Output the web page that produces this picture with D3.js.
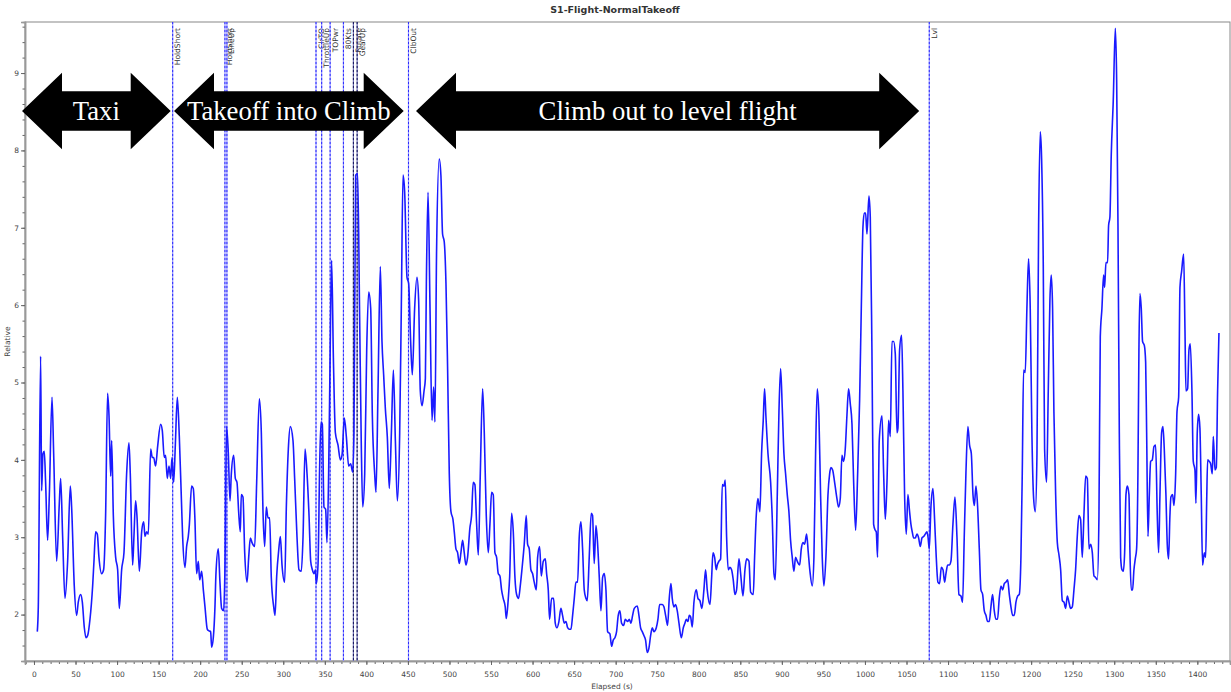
<!DOCTYPE html>
<html><head><meta charset="utf-8">
<script src="https://cdn.jsdelivr.net/npm/d3@7"></script>
<style>
html,body{margin:0;padding:0;background:#fff;}
svg{display:block;}
</style></head>
<body>
<svg id="chart" width="1231" height="692"></svg>
<script>
const chartTitle = "S1-Flight-NormalTakeoff";
const xLabel = "Elapsed (s)";
const yLabel = "Relative";
const xTickValues = d3.range(0, 1401, 50);
const yTickValues = [2, 3, 4, 5, 6, 7, 8, 9];

const elapsed = [4.0,5.2,8.0,9.2,10.8,12.4,14.0,16.4,18.5,21.7,23.7,27.3,30.5,32.1,34.5,37.3,40.5,43.7,45.3,48.5,51.3,53.3,56.2,58.2,60.6,62.6,64.6,67.4,70.6,72.2,74.2,76.2,78.2,81.4,83.8,86.2,88.6,90.3,92.3,93.5,95.5,98.3,100.7,102.7,105.5,108.3,111.5,114.3,115.9,118.7,120.3,122.3,123.9,126.8,129.6,132.0,133.6,135.6,137.6,140.4,142.4,144.0,146.4,148.8,152.4,154.4,156.8,158.4,160.4,162.5,164.5,166.1,168.1,170.1,172.5,174.9,177.7,178.9,181.7,183.7,185.7,186.9,189.7,191.7,193.7,195.7,197.8,199.4,201.8,203.8,205.8,208.6,210.6,212.6,213.8,215.8,217.8,219.0,221.8,223.8,225.8,228.2,229.8,231.8,233.9,235.9,237.5,240.3,242.3,244.3,246.3,248.3,249.5,251.5,253.6,256.4,258.4,260.4,262.4,265.6,268.0,271.2,273.6,275.6,277.6,279.6,281.6,283.6,285.6,288.5,290.1,292.1,294.5,296.5,298.5,301.7,303.7,306.1,308.5,311.7,313.7,316.5,318.9,321.7,323.8,326.2,328.6,331.0,333.0,335.0,337.0,338.6,339.8,341.8,343.8,345.4,347.0,349.0,351.0,352.6,354.6,356.2,358.2,360.3,362.7,365.9,368.7,370.7,373.5,375.9,378.7,381.1,383.5,385.1,387.1,389.5,391.9,393.9,395.6,398.0,400.4,402.8,405.2,407.2,410.0,411.6,414.0,416.8,418.8,420.8,422.8,425.2,427.6,430.1,432.5,434.9,437.3,440.1,442.1,444.1,446.1,448.9,450.9,453.3,455.3,458.1,460.9,462.9,464.9,467.0,469.4,471.0,472.2,474.2,476.6,479.0,480.9,482.5,484.5,487.7,489.7,491.7,493.7,495.8,497.8,499.8,501.8,504.2,505.8,507.8,509.8,511.8,513.8,515.8,517.8,519.8,521.8,524.6,526.6,528.6,530.6,532.7,534.7,537.1,539.9,541.9,544.3,546.7,548.7,550.7,552.7,554.7,556.7,558.7,560.7,562.7,564.7,567.1,568.4,570.8,572.4,574.8,576.8,578.8,580.8,583.2,585.2,587.2,590.0,592.4,594.0,596.0,598.0,600.0,602.0,604.5,606.1,608.5,610.5,612.9,615.3,616.9,618.9,620.5,622.9,625.3,627.3,629.3,631.7,634.1,636.1,638.1,640.2,642.2,644.2,646.2,648.2,650.2,652.2,654.2,656.2,658.2,660.2,662.2,664.2,665.8,668.2,670.6,672.2,674.2,676.3,678.3,680.3,682.3,684.3,686.3,688.3,690.3,693.1,695.1,697.1,699.1,701.1,703.1,705.1,707.1,709.6,711.6,714.4,716.4,718.4,720.4,722.4,726.0,728.0,730.0,732.0,734.0,736.0,738.0,740.1,742.1,744.1,746.1,748.9,750.9,752.9,756.1,758.1,760.1,762.5,764.5,766.5,768.1,770.1,772.1,774.1,776.2,779.0,781.4,783.4,785.0,787.0,788.6,790.2,792.2,794.2,797.0,799.0,801.4,803.8,806.2,808.2,810.2,813.5,815.5,817.1,819.1,821.1,822.3,824.3,826.3,828.3,830.3,831.9,833.5,835.5,837.5,839.5,841.5,843.5,845.5,848.4,850.4,853.2,855.6,857.6,860.4,862.4,865.6,867.2,869.2,871.2,873.6,875.6,877.6,879.2,880.8,883.3,886.5,888.5,890.5,892.1,894.5,896.5,898.5,900.5,902.5,904.5,906.5,908.5,910.5,912.5,914.5,916.5,918.5,921.4,923.4,925.4,927.4,929.8,931.8,933.8,936.6,938.6,940.6,942.6,944.6,946.6,948.6,950.6,953.0,955.5,957.5,959.1,961.1,963.5,966.3,968.3,970.3,972.3,974.3,976.3,978.3,980.3,982.3,984.4,986.4,988.8,991.2,993.6,995.6,997.6,999.2,1000.8,1002.4,1004.8,1006.4,1008.4,1010.4,1012.4,1013.6,1015.2,1017.2,1020.5,1022.5,1024.5,1026.5,1028.5,1030.5,1032.5,1034.5,1036.5,1038.5,1039.7,1041.7,1044.1,1045.7,1047.7,1049.7,1051.7,1053.7,1055.3,1056.9,1058.6,1060.6,1062.6,1064.6,1066.6,1068.6,1070.6,1072.6,1074.6,1075.8,1077.4,1079.4,1081.8,1083.8,1085.8,1087.8,1089.8,1091.9,1093.9,1095.9,1097.5,1099.5,1101.5,1103.5,1105.9,1108.3,1110.7,1113.1,1115.5,1117.5,1119.5,1121.5,1123.9,1125.9,1128.0,1130.0,1131.6,1133.6,1135.6,1137.6,1139.6,1141.6,1143.6,1145.6,1147.6,1149.6,1151.6,1153.6,1155.6,1157.6,1159.6,1161.6,1163.7,1165.7,1167.7,1169.7,1171.7,1173.7,1175.7,1177.7,1179.7,1181.7,1183.7,1185.7,1187.7,1189.3,1190.9,1192.9,1194.9,1196.9,1198.9,1200.9,1203.0,1205.0,1207.0,1209.0,1211.0,1212.6,1214.6,1216.2,1218.6,1220.6,1222.6,1224.2,1225.8,1227.4,1229.5,1231.5,1233.5,1235.5,1237.5,1239.5,1241.5,1243.5,1245.5,1247.5,1249.5,1251.5,1253.5,1255.5,1257.5,1259.5,1261.5,1263.5,1265.6,1267.6,1269.6,1271.6,1273.6,1275.6,1277.6,1279.6,1281.6,1283.2,1285.2,1287.2,1288.4,1290.0,1292.0,1293.2,1294.8,1296.4,1298.8,1301.3,1302.9,1304.5,1306.1,1307.7,1309.3,1310.9,1312.5,1314.1,1315.7,1317.7,1318.9,1320.5,1322.1,1323.7,1325.3,1326.9,1328.5,1329.7,1330.9,1332.5,1334.1,1336.2,1337.8,1339.0,1340.6,1342.2,1343.8,1345.8,1347.8,1349.8,1351.8,1353.4,1355.0,1357.0,1358.6,1360.2,1362.2,1363.8,1365.4,1367.0,1368.2,1370.2,1371.9,1373.9,1375.5,1377.5,1379.1,1381.1,1383.5,1385.1,1386.3,1388.3,1389.9,1391.5,1393.5,1395.1,1397.1,1398.3,1399.9,1401.5,1403.1,1404.7,1406.3,1408.4,1410.0,1411.2,1412.4,1414.4,1416.0,1418.0,1419.2,1421.2,1422.8,1424.4,1426.0];

const relative = [1.78,2.10,5.34,3.60,4.08,4.11,3.71,2.96,3.55,4.81,4.08,2.69,3.44,3.76,3.01,2.21,2.69,3.66,3.39,2.37,1.99,2.16,2.26,2.16,1.83,1.70,1.73,1.94,2.37,2.69,3.07,3.04,2.74,2.53,2.58,3.28,4.86,4.57,3.79,4.25,3.28,2.74,2.58,2.08,2.58,2.80,3.82,4.22,3.82,2.64,3.01,3.47,3.28,2.56,3.07,3.20,3.01,3.07,3.04,4.14,4.03,4.03,3.92,4.17,4.46,4.38,4.03,4.06,3.76,3.92,3.76,4.03,3.71,4.19,4.81,4.30,3.39,3.01,2.61,2.88,3.01,3.15,3.66,3.63,3.23,2.53,2.69,2.45,2.56,2.32,2.10,1.81,1.79,1.78,1.58,1.70,2.10,2.53,2.85,2.42,2.08,2.05,2.58,4.43,4.08,3.47,3.82,4.06,3.76,3.71,3.33,3.07,3.55,3.52,2.80,2.42,2.74,2.99,2.93,2.88,3.71,4.79,4.35,3.33,2.88,3.39,3.25,3.25,2.48,2.10,1.99,2.50,2.83,3.01,2.64,2.42,3.39,4.14,4.43,4.25,3.76,3.01,2.58,2.56,3.01,4.14,3.82,3.28,2.69,2.58,2.53,2.58,2.40,2.64,3.92,4.49,4.46,3.39,3.36,2.93,3.82,5.18,6.58,5.32,4.35,4.19,4.00,4.06,4.54,4.30,3.92,3.95,3.84,4.35,7.68,7.70,5.85,4.19,3.39,3.82,5.42,6.17,5.96,4.57,3.82,3.58,4.89,6.50,5.53,5.10,4.67,4.30,3.63,4.35,5.16,4.25,3.47,4.35,6.01,7.68,7.46,6.36,6.28,5.53,5.10,5.96,6.36,6.07,4.89,4.70,4.89,5.05,6.28,7.46,5.96,4.51,4.94,4.49,6.71,7.89,7.68,6.92,6.82,6.28,5.16,3.82,3.33,3.23,3.07,2.85,2.80,2.66,2.80,2.96,2.80,2.64,2.74,3.12,3.28,3.71,3.68,3.17,2.77,3.82,4.92,4.35,3.28,2.80,3.17,3.58,3.55,2.80,2.74,2.53,2.50,2.32,2.21,2.10,1.95,2.21,2.48,3.31,3.07,2.48,2.26,2.21,2.37,2.58,2.91,3.28,2.91,2.85,2.58,2.53,2.42,2.32,2.74,2.88,2.50,2.69,2.72,2.53,2.32,1.94,2.21,2.21,1.89,1.83,1.91,2.08,1.99,1.89,1.91,1.83,1.81,1.81,1.99,2.21,2.42,2.42,3.01,3.20,2.85,2.32,2.21,2.18,2.74,3.31,3.28,2.66,3.15,2.91,2.48,2.05,2.48,2.53,2.32,1.78,1.75,1.59,1.67,1.70,1.78,1.99,2.05,1.89,1.86,1.94,1.91,1.94,1.89,1.99,2.08,2.11,1.99,1.83,1.78,1.73,1.67,1.51,1.57,1.73,1.83,1.78,1.83,1.94,2.13,2.13,2.10,1.99,1.86,2.21,2.40,2.21,2.10,2.13,2.05,1.89,1.70,1.83,1.89,1.94,1.91,1.99,1.97,1.84,2.16,2.32,2.21,2.18,2.08,2.32,2.58,2.32,2.13,2.48,2.80,2.74,2.58,2.64,2.69,2.72,3.68,3.66,3.74,3.01,2.58,2.61,2.58,2.45,2.26,2.32,2.72,2.53,2.24,2.58,2.72,2.69,2.29,2.26,2.74,3.28,3.50,3.33,4.08,4.51,4.92,4.57,4.08,3.71,3.23,2.53,2.45,3.55,4.62,5.18,4.67,4.08,3.82,3.55,3.33,2.96,2.74,2.56,2.74,2.69,2.64,2.85,2.93,2.91,3.04,2.80,2.56,2.37,2.74,4.08,4.92,4.57,3.55,2.74,2.37,2.74,3.55,3.82,3.90,3.87,3.71,3.50,3.39,3.50,4.06,3.98,4.14,4.57,4.92,4.73,4.46,3.71,3.09,3.82,4.78,5.96,7.01,7.19,7.19,6.92,7.41,7.14,5.42,3.17,3.09,3.07,2.74,4.25,4.57,3.82,3.23,3.71,4.51,4.30,5.53,5.53,5.37,4.35,4.41,5.42,5.61,4.89,3.55,3.04,3.55,3.33,3.17,3.07,2.99,2.99,3.04,2.99,2.88,2.99,3.01,3.04,3.07,3.01,2.85,3.39,3.63,3.23,2.74,2.42,2.40,2.61,2.58,2.42,2.53,2.64,2.64,2.69,3.17,3.52,3.01,2.26,2.24,2.16,3.01,3.82,4.43,4.19,4.08,3.55,3.41,3.66,3.39,2.85,2.32,2.26,2.05,1.99,1.91,1.91,2.10,2.26,2.05,1.94,1.94,2.21,2.37,2.32,2.40,2.42,2.45,2.26,2.10,1.99,1.99,2.16,2.24,2.26,2.74,3.82,5.16,5.13,5.96,6.60,5.96,4.35,3.50,3.33,4.08,7.03,8.24,7.89,6.50,4.14,3.71,4.89,6.07,6.39,5.96,4.62,3.55,2.93,2.77,2.58,2.18,2.16,2.08,2.24,2.16,2.08,2.10,2.32,2.58,3.01,3.28,3.23,2.74,3.28,3.79,3.76,2.85,2.91,2.80,2.50,2.48,2.45,3.28,5.59,5.96,6.39,6.23,6.55,6.55,7.03,7.14,7.94,8.64,9.58,8.91,7.03,4.35,2.74,2.58,2.56,2.80,3.55,3.66,3.55,2.80,2.32,2.32,2.58,2.72,2.85,3.82,5.42,6.15,5.96,5.53,5.48,5.26,4.35,3.01,3.55,3.98,4.00,4.17,4.19,3.28,2.80,3.55,4.35,4.43,4.14,3.55,2.91,2.72,3.28,3.52,3.55,3.41,3.82,4.62,4.81,6.23,6.44,6.66,5.69,4.89,4.92,5.42,5.50,4.89,3.98,3.87,3.44,4.35,4.59,4.41,3.55,2.64,2.80,2.74,3.44,4.00,3.98,3.95,3.82,4.30,3.87,3.90,4.89,5.64];

const eventNames = ["HoldShort","HoldShort","LineUp","ClrTO","ThrottleUp","TOPwr","80Kts","Rotate","GearUp","ClbOut","Lvl"];
const eventTimes = [166.9, 229.8, 232.2, 339.4, 346.2, 356.4, 372.4, 384.4, 388.9, 450.7, 1077.4];

const phaseLabels = ["Taxi","Takeoff into Climb","Climb out to level flight"];
const phaseStart = [-14.4, 168.5, 459.7];
const phaseEnd = [164.5, 444.9, 1065.3];
const phaseLevel = 8.51;

const svg = d3.select("#chart");
const W = 1231, H = 692;
const m = {left: 25, right: 1, top: 22, bottom: 31};
const x = d3.scaleLinear().domain([-10.8, 1439.3]).range([m.left, W - m.right]);
const y = d3.scaleLinear().domain([1.40, 9.66]).range([H - m.bottom, m.top]);
const font = "'DejaVu Sans', sans-serif";

// title
svg.append("text").attr("x", 615).attr("y", 13).attr("text-anchor", "middle")
  .attr("font-family", font).attr("font-weight", "bold").attr("font-size", 9.5)
  .attr("fill", "#333").text(chartTitle);

// frame
svg.append("rect").attr("x", m.left).attr("y", m.top)
  .attr("width", W - m.right - m.left).attr("height", H - m.bottom - m.top)
  .attr("fill", "none").attr("stroke", "#888").attr("stroke-width", 1);

// minor ticks
const xMinor = svg.append("g").attr("transform", `translate(0,${H - m.bottom})`)
  .call(d3.axisBottom(x).tickValues(d3.range(-10, 1431, 10)).tickSize(3).tickFormat(""));
const yMinor = svg.append("g").attr("transform", `translate(${m.left},0)`)
  .call(d3.axisLeft(y).tickValues(d3.range(1.4, 9.61, 0.2)).tickSize(2.5).tickFormat(""));
// major axes
const xAxis = svg.append("g").attr("transform", `translate(0,${H - m.bottom})`)
  .call(d3.axisBottom(x).tickValues(xTickValues).tickSize(4).tickPadding(7).tickFormat(d3.format("d")));
const yAxis = svg.append("g").attr("transform", `translate(${m.left},0)`)
  .call(d3.axisLeft(y).tickValues(yTickValues).tickSize(4).tickPadding(2).tickFormat(d3.format("d")));
[xMinor, yMinor, xAxis, yAxis].forEach(g => {
  g.select(".domain").attr("stroke", "#999").attr("stroke-width", 1.5);
  g.selectAll(".tick line").attr("stroke", "#666");
  g.selectAll(".tick text").attr("font-family", font).attr("font-size", 7.5).attr("fill", "#444");
});

// axis titles
svg.append("text").attr("x", 612).attr("y", 689).attr("text-anchor", "middle")
  .attr("font-family", font).attr("font-size", 7.5).attr("fill", "#444").text(xLabel);
svg.append("text").attr("transform", `translate(10,${(m.top + H - m.bottom) / 2}) rotate(-90)`)
  .attr("text-anchor", "middle").attr("font-family", font).attr("font-size", 7.5)
  .attr("fill", "#444").text(yLabel);

// event lines
const ev = svg.append("g");
eventNames.forEach((name, i) => {
  const xe = x(eventTimes[i]);
  const dark = name === "Rotate" || name === "GearUp";
  ev.append("line").attr("x1", xe).attr("x2", xe).attr("y1", m.top).attr("y2", H - m.bottom)
    .attr("stroke", dark ? "#6a6ab0" : "#8f8fff").attr("stroke-width", 1.2);
  ev.append("line").attr("x1", xe).attr("x2", xe).attr("y1", m.top).attr("y2", H - m.bottom)
    .attr("stroke", dark ? "#14145a" : "#2b2bff").attr("stroke-width", 1)
    .attr("stroke-dasharray", "2,2");
  ev.append("text").attr("transform", `translate(${xe + 7.5},${m.top + 6}) rotate(-90)`)
    .attr("text-anchor", "end").attr("font-family", font).attr("font-size", 7.5)
    .attr("fill", "#333").text(name);
});

// data line
const pts = elapsed.map((t, i) => [t, relative[i]]);
svg.append("path").datum(pts)
  .attr("d", d3.line().x(d => x(d[0])).y(d => y(d[1])).curve(d3.curveMonotoneX))
  .attr("fill", "none").attr("stroke", "#1a1aff").attr("stroke-width", 1.6)
  .attr("stroke-linejoin", "round");

// phase arrows
const head = 40, hh = 38.3, sh = 19.7;
function arrowPath(x0, x1, yc) {
  return [[x0, yc], [x0 + head, yc - hh], [x0 + head, yc - sh], [x1 - head, yc - sh], [x1 - head, yc - hh],
    [x1, yc], [x1 - head, yc + hh], [x1 - head, yc + sh], [x0 + head, yc + sh], [x0 + head, yc + hh]]
    .map((p, i) => (i ? "L" : "M") + p[0].toFixed(1) + "," + p[1].toFixed(1)).join("") + "Z";
}
phaseLabels.forEach((lab, i) => {
  const x0 = x(phaseStart[i]), x1 = x(phaseEnd[i]), yc = y(phaseLevel);
  svg.append("path").attr("d", arrowPath(x0, x1, yc)).attr("fill", "#000");
  svg.append("text").attr("x", (x0 + x1) / 2).attr("y", yc + 9.3)
    .attr("text-anchor", "middle").attr("font-family", "'Liberation Serif', 'Times New Roman', serif")
    .attr("font-size", 26.7).attr("fill", "#fff").text(lab);
});
</script>
</body></html>
